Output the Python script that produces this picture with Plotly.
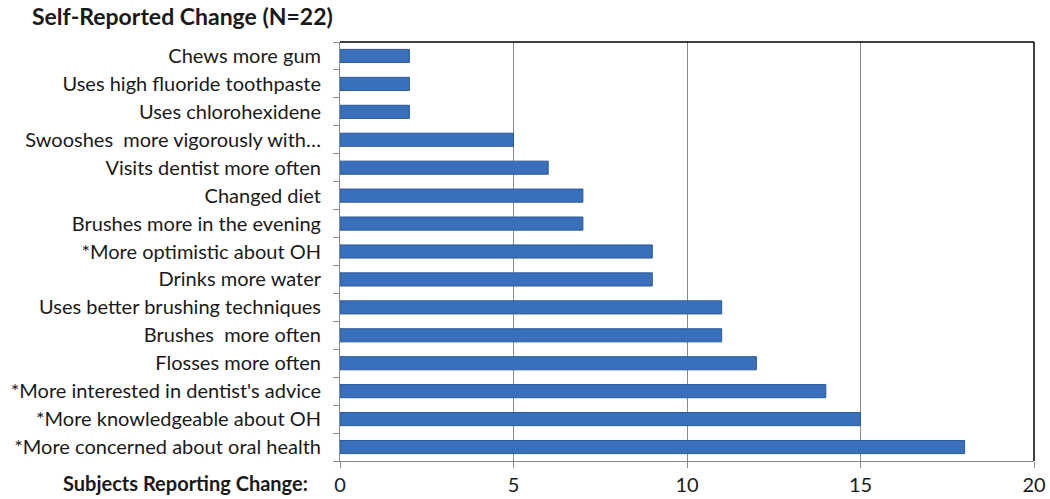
import plotly.graph_objects as go

# Data (top to bottom)
changes = [
    "Chews more gum",
    "Uses high fluoride toothpaste",
    "Uses chlorohexidene",
    "Swooshes  more vigorously with…",
    "Visits dentist more often",
    "Changed diet",
    "Brushes more in the evening",
    "*More optimistic about OH",
    "Drinks more water",
    "Uses better brushing techniques",
    "Brushes  more often",
    "Flosses more often",
    "*More interested in dentist's advice",
    "*More knowledgeable about OH",
    "*More concerned about oral health",
]
subjects = [2, 2, 2, 5, 6, 7, 7, 9, 9, 11, 11, 12, 14, 15, 18]

x_ticks = [0, 5, 10, 15, 20]

font_family = "Lato, 'Open Sans', sans-serif"

fig = go.Figure()
fig.add_trace(go.Bar(
    x=subjects,
    y=changes,
    orientation="h",
    marker=dict(color="#3A6FBC", line=dict(color="#2B5A9A", width=1)),
    width=0.47,
))

fig.update_layout(
    width=1050,
    height=499,
    margin=dict(l=340, r=16, t=42, b=38, autoexpand=False),
    paper_bgcolor="white",
    plot_bgcolor="white",
    showlegend=False,
    font=dict(family=font_family, size=20, color="#1a1a1a"),
    xaxis=dict(
        range=[0, 20],
        tickvals=x_ticks,
        ticks="outside",
        ticklen=6,
        tickcolor="#8a8a8a",
        showgrid=True,
        gridcolor="#8a8a8a",
        gridwidth=1,
        showline=True,
        linecolor="#8a8a8a",
        zeroline=False,
        automargin=False,
        tickfont=dict(size=20),
    ),
    yaxis=dict(
        categoryorder="array",
        categoryarray=changes[::-1],
        ticks="outside",
        tickson="boundaries",
        ticklen=6,
        tickcolor="#8a8a8a",
        showline=True,
        linecolor="#8a8a8a",
        showgrid=False,
        automargin=False,
        ticklabelstandoff=14,
    ),
    shapes=[
        dict(type="line", xref="paper", yref="paper", x0=0, x1=1, y0=1, y1=1,
             line=dict(color="black", width=1.5)),
        dict(type="line", xref="paper", yref="paper", x0=1, x1=1, y0=0, y1=1,
             line=dict(color="black", width=1.5)),
    ],
    annotations=[
        dict(text="<b>Self-Reported Change (N=22)</b>", xref="paper", yref="paper",
             x=-340 / 694, y=1, yshift=26, xshift=30, xanchor="left", yanchor="middle",
             showarrow=False, font=dict(size=23, color="#1a1a1a")),
        dict(text="<b>Subjects Reporting Change:</b>", xref="paper", yref="paper",
             x=0, y=0, xshift=-30, yshift=-22, xanchor="right", yanchor="middle",
             showarrow=False, font=dict(size=20, color="#1a1a1a")),
    ],
)

# remove the default page margin so the figure fills the window
fig.write_html("out.html", config={"displayModeBar": False},
               post_script="document.body.style.margin='0';")
